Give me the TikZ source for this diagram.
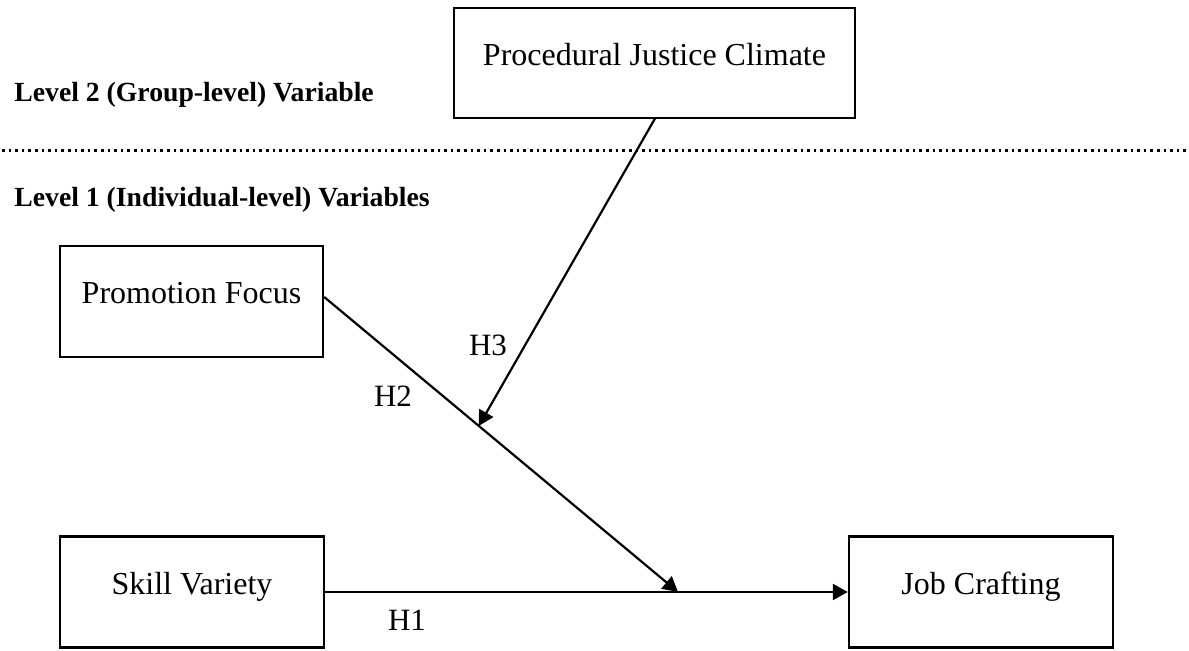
\documentclass[tikz,border=0pt]{standalone}
\usepackage{fontspec}
\setmainfont{Liberation Serif}
\usetikzlibrary{arrows.meta,calc}
\tikzset{
  box/.style={draw, line width=1.2pt, rectangle, inner sep=0pt,
    font=\fontsize{16}{19}\selectfont, text height=11pt, text depth=8.5pt},
  conn/.style={line width=1.1pt, -{Triangle[length=7.5pt,width=8pt]}},
  lvl/.style={anchor=base west, inner sep=0pt, font=\fontsize{13.85}{16}\selectfont\bfseries},
  hlab/.style={inner sep=0pt, font=\fontsize{15.5}{18}\selectfont},
  sep/.style={line width=1.3pt, dash pattern=on 1.3pt off 2pt}
}
\begin{document}
\begin{tikzpicture}[x=0.5pt,y=-0.5pt]
\useasboundingbox (0,0) rectangle (1189,651);
\node[box, minimum width=200.5pt, minimum height=55pt] (pjc) at (654.5,63) {Procedural Justice Climate};
\node[box, minimum width=131.5pt, minimum height=55.5pt] (pf) at (191.5,301.5) {Promotion Focus};
\node[box, minimum width=132pt, minimum height=55.5pt] (sv) at (192,592) {Skill Variety};
\node[box, minimum width=132pt, minimum height=55.5pt] (jc) at (981,592) {Job Crafting};
\node[lvl] (l2) at (14,101.7) {Level 2 (Group-level) Variable};
\node[lvl] (l1) at (14,206.7) {Level 1 (Individual-level) Variables};
\coordinate (dl) at (2,150.7);
\coordinate (dr) at (1189,150.7);
\draw[sep] (dl) -- (dr);
\draw[conn] (sv.east) -- (jc.west);
\coordinate (pfs) at ($(pf.east)+(0,-4.5)$);
\coordinate (m) at (678,592);
\draw[conn] (pfs) -- (m);
\coordinate (pjs) at (655,118.5);
\coordinate (hit) at ($(pfs)!0.437!(m)$);
\draw[conn] (pjs) -- (hit);
\node[hlab] (h3) at (488,345) {H3};
\node[hlab] (h2) at (393,396) {H2};
\node[hlab] (h1) at (407,620) {H1};
\end{tikzpicture}
\end{document}
